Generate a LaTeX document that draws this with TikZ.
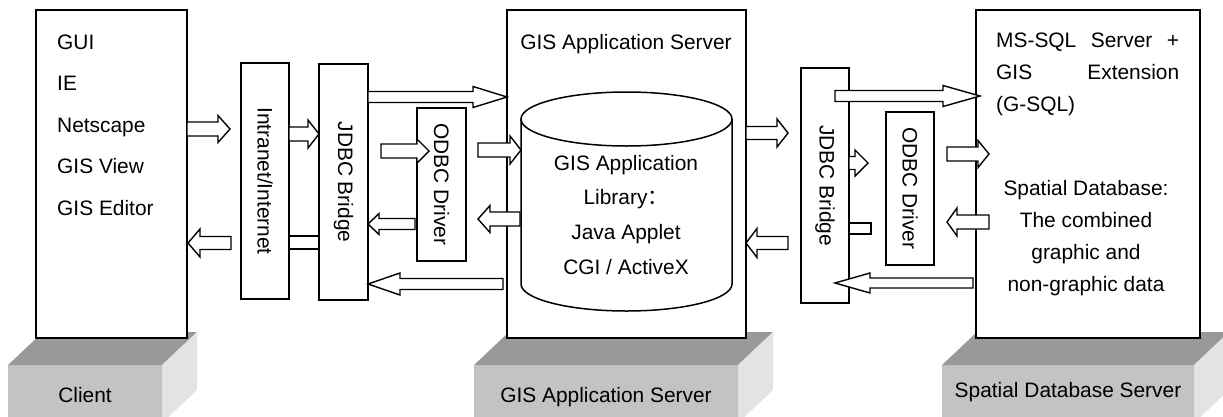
\documentclass[tikz,border=0pt]{standalone}
\usepackage{fontspec}
\setmainfont{Liberation Sans}
\newfontfamily\cjk{Noto Sans CJK SC}
\definecolor{basetop}{HTML}{999999}
\definecolor{basefront}{HTML}{C3C3C3}
\definecolor{baseside}{HTML}{E3E3E3}
\newcommand{\barrow}[6]{%
  \draw[barrowstyle] (#1,#4-#5) -- (#2,#4-#5) -- (#2,#4-#6) -- (#3,#4) -- (#2,#4+#6) -- (#2,#4+#5) -- (#1,#4+#5) -- cycle;}
\newcommand{\basebox}[3]{% left x, right x, label
  \fill[basefront] (#1,365) rectangle (#2,425);
  \fill[basetop] (#1,365) -- (#1+35,332) -- (#2+35,332) -- (#2,365) -- cycle;
  \fill[baseside] (#2,365) -- (#2+35,332) -- (#2+35,390) -- (#2,423) -- cycle;}
\begin{document}
\begin{tikzpicture}[x=1pt,y=-1pt,
  box/.style={draw,line width=1.5pt,fill=white,inner sep=0pt},
  txt/.style={font=\fontsize{20.9}{24}\selectfont,inner sep=0pt},
  vtxt/.style={txt,rotate=-90},
  barrowstyle/.style={draw,line width=1.4pt,fill=white,line join=miter}]
\useasboundingbox (0,0) rectangle (1223,416);
\clip (0,0) rectangle (1223,416);
% bases
\basebox{8}{162}{}
\basebox{474}{738}{}
\basebox{942}{1194}{}
\node[txt,anchor=base] (clientlbl) at (85,402) {Client};
\node[txt,anchor=base] (serverlbl) at (606,402) {GIS Application Server};
\node[txt,anchor=base] (dblbl) at (1068,397) {Spatial Database Server};
% main boxes
\node[box,minimum width=151pt,minimum height=328pt] (client) at (111.5,174) {};
\node[box,minimum width=239pt,minimum height=328pt] (server) at (626.5,174) {};
\node[box,minimum width=224pt,minimum height=328pt] (db) at (1088,174) {};
% small boxes
\node[box,minimum width=48pt,minimum height=236pt] (intra) at (265,181) {};
\node[box,minimum width=49pt,minimum height=236pt] (jdbcl) at (343.5,182) {};
\node[box,minimum width=49pt,minimum height=153pt] (odbcl) at (441.5,184.5) {};
\node[box,minimum width=48pt,minimum height=235pt] (jdbcr) at (825,185.5) {};
\node[box,minimum width=48pt,minimum height=153pt] (odbcr) at (910,188.5) {};
\node[vtxt] at (intra.center) {Intranet/Internet};
\node[vtxt] at (jdbcl.center) {JDBC Bridge};
\node[vtxt] at (odbcl.center) {ODBC Driver};
\node[vtxt] at (jdbcr.center) {JDBC Bridge};
\node[vtxt] at (odbcr.center) {ODBC Driver};
% client texts
\node[txt,anchor=base west] (t1) at (57,49) {GUI};
\node[txt,anchor=base west] (t2) at (57,90.5) {IE};
\node[txt,anchor=base west] (t3) at (57,132) {Netscape};
\node[txt,anchor=base west] (t4) at (57,173.5) {GIS View};
\node[txt,anchor=base west] (t5) at (57,215) {GIS Editor};
% server texts
\node[txt,anchor=base] (s0) at (626,49) {GIS Application Server};
% cylinder
\draw[line width=1.5pt,fill=white] (521,119) -- (521,284) arc[start angle=180,end angle=360,x radius=105.5pt,y radius=27pt] -- (732,119);
\draw[line width=1.5pt,fill=white] (626.5,119) ellipse[x radius=105.5pt,y radius=27pt];
\node[txt,anchor=base] (c1) at (626,170) {GIS Application};
\node[txt,anchor=base] (c2) at (626,204) {Library{\cjk ：}};
\node[txt,anchor=base] (c3) at (626,239) {Java Applet};
\node[txt,anchor=base] (c4) at (626,274) {CGI / ActiveX};
% db texts
\node[txt,anchor=base west] (d1) at (996,47) {\makebox[183pt][s]{MS-SQL Server +}};
\node[txt,anchor=base west] (d2) at (996,79) {\makebox[183pt][s]{GIS Extension}};
\node[txt,anchor=base west] (d3) at (996,111) {(G-SQL)};
\node[txt,anchor=base] (d4) at (1086,195) {Spatial Database:};
\node[txt,anchor=base] (d5) at (1086,227) {The combined};
\node[txt,anchor=base] (d6) at (1086,259) {graphic and};
\node[txt,anchor=base] (d7) at (1086,291) {non-graphic data};
% arrows
\barrow{187}{218}{230}{129}{7}{13.5}
\barrow{289}{308}{319}{134}{7}{14}
\draw[barrowstyle] (289,236) rectangle (319,249);
\barrow{231}{200}{188}{243}{6.5}{14}
\barrow{368}{473}{507}{97}{5.5}{10.5}
\barrow{381}{417}{429}{151}{7}{12}
\barrow{415}{379}{368}{224}{5.5}{10.5}
\barrow{478}{510}{521}{150}{7}{14}
\barrow{520}{490}{478}{219}{7}{13.5}
\barrow{503}{400}{368}{284}{5.5}{11}
\barrow{746}{777}{788}{133}{6.5}{14}
\barrow{788}{757}{746}{243}{6.5}{14.5}
\barrow{835}{943}{980}{96}{5.5}{10.5}
\barrow{849}{855}{868}{163}{6.5}{13}
\draw[barrowstyle] (849,223) rectangle (871,234);
\barrow{947}{978}{989}{154}{7}{13.5}
\barrow{989}{957}{947}{222}{7}{14}
\barrow{973}{870}{835}{283}{5}{10}
\end{tikzpicture}
\end{document}
